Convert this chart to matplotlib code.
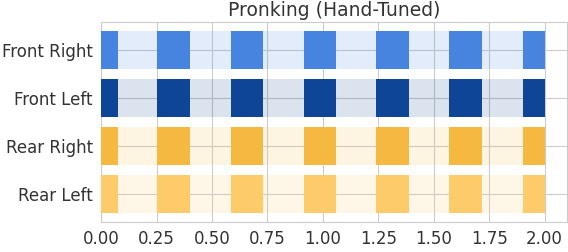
import numpy as np
import matplotlib.pyplot as plt
import seaborn as sns

sns.set_style("whitegrid")
plt.rcParams['font.family'] = ['DejaVu Sans']

legs = ["Front Right", "Front Left", "Rear Right", "Rear Left"]
stance_colors = ["#4684e0", "#0f4596", "#f5b841", "#fdcb6a"]
duration = 2.0
stance_start = [0.0, 0.25, 0.585, 0.915, 1.24, 1.57, 1.90]
stance_end = [0.075, 0.40, 0.73, 1.06, 1.387, 1.717, 2.0]

starts = np.array(stance_start)
widths = np.array(stance_end) - starts

fig = plt.figure(figsize=(5.68, 2.52), dpi=100)
ax = fig.add_axes([0.178, 0.119, 0.82, 0.794])

for i, (leg, c) in enumerate(zip(legs, stance_colors)):
    ax.barh(i, duration, left=0, height=0.8, color=c, alpha=0.15, linewidth=0, zorder=1)
    ax.barh([i] * len(starts), widths, left=starts, height=0.8, color=c,
            linewidth=0, zorder=3)

ax.set_axisbelow(True)
ax.set_yticks(range(len(legs)))
ax.set_yticklabels(legs, fontsize=12)
ax.set_ylim(len(legs) - 0.42, -0.58)
ax.set_xlim(0, 2.1)
ax.set_xticks(np.arange(0, 2.01, 0.25))
ax.set_xticklabels(["%.2f" % v for v in np.arange(0, 2.01, 0.25)], fontsize=12)
ax.tick_params(axis='both', length=0, pad=6, colors='#333333')
for s in ax.spines.values():
    s.set_color('#cccccc')
ax.set_title("Pronking (Hand-Tuned)", fontsize=13.5, color='#333333', pad=4)

fig.savefig("out.png", dpi=100)
